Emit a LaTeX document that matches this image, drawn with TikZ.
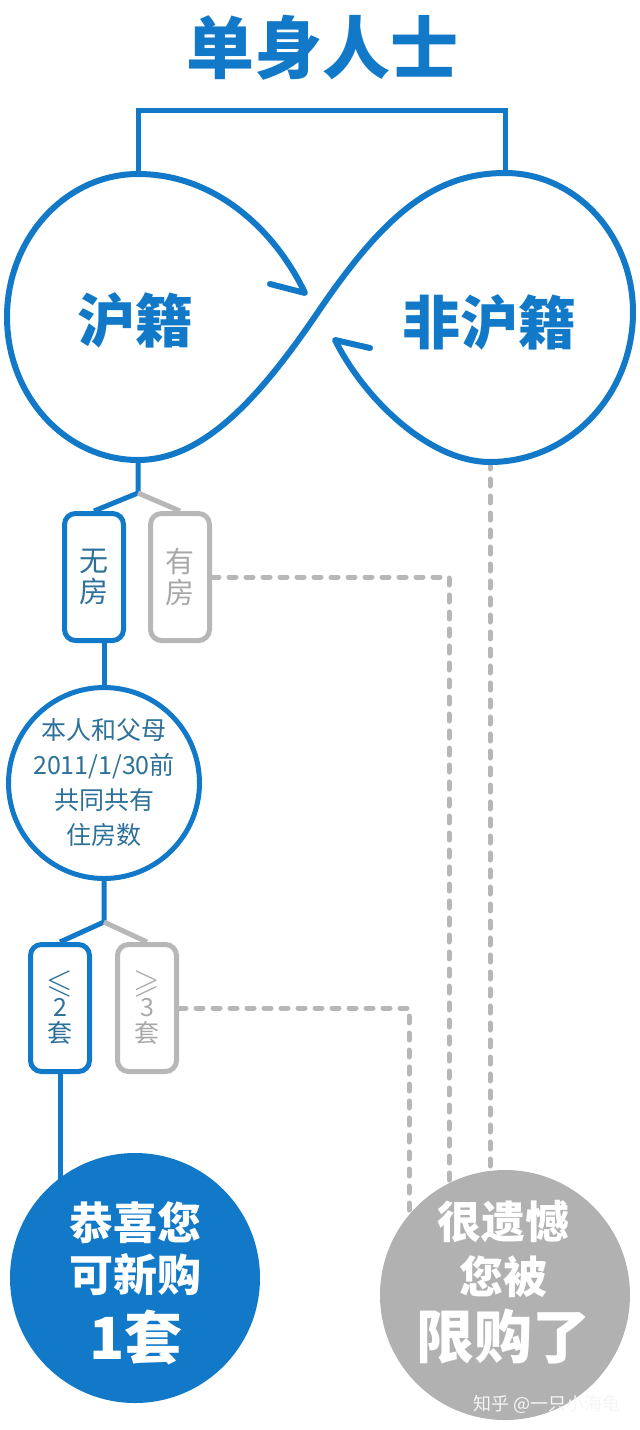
\documentclass[tikz,border=0pt]{standalone}
\usepackage{amssymb}
\usepackage{fontspec}
\newfontfamily\cjk{Noto Sans CJK SC}
\usetikzlibrary{backgrounds}
\definecolor{mblue}{RGB}{17,121,200}
\definecolor{tblue}{RGB}{45,112,152}
\definecolor{lgray}{RGB}{183,183,183}
\definecolor{tgray}{RGB}{168,168,168}
\definecolor{fgray}{RGB}{177,177,177}
\newcommand{\bigrel}[1]{\raisebox{-2pt}{\fontsize{34}{26}\selectfont$#1$}}
\begin{document}
\begin{tikzpicture}[x=1pt,y=-1pt,
  blueline/.style={draw=mblue,line width=5pt},
  grayline/.style={draw=lgray,line width=5pt},
  dashline/.style={draw=lgray,line width=5pt,line cap=round,dash pattern=on 7pt off 10pt},
  optbox/.style={rectangle,rounded corners=11pt,line width=5pt,minimum width=59pt,minimum height=127pt,inner sep=0pt,align=center},
  onbox/.style={optbox,draw=mblue,text=tblue},
  offbox/.style={optbox,draw=lgray,text=tgray},
  looplabel/.style={font=\cjk\bfseries\fontsize{58}{58}\selectfont,text=mblue,inner sep=0pt},
  endcircle/.style={circle,minimum size=250pt,inner sep=0pt},
  endsmall/.style={text=white,inner sep=0pt,font=\cjk\bfseries\fontsize{44}{44}\selectfont},
  endbig/.style={text=white,inner sep=0pt,font=\cjk\bfseries\fontsize{58}{58}\selectfont}
]
\useasboundingbox (0,0) rectangle (640,1430);

% title
\node[font=\cjk\bfseries\fontsize{68}{68}\selectfont,text=mblue,inner sep=0pt] (title) at (322,48) {单身人士};

% key points of the infinity loop
\coordinate (ltop) at (138,174);
\coordinate (lbot) at (138,460);
\coordinate (rtop) at (505,173);
\coordinate (rbot) at (490,462);
\coordinate (bk) at (138,110);

\node[looplabel] (hu) at (135,320) {沪籍};
\node[looplabel] (fei) at (489,322) {非沪籍};

% infinity loop with its two half arrowheads
\draw[mblue,line width=6pt,line cap=round,line join=round]
  (270,284) -- (305,293) .. controls (275,230) and (215,174) .. (ltop)
  .. controls (66,174) and (7,238) .. (7,317)
  .. controls (7,396) and (66,460) .. (lbot)
  .. controls (200,460) and (255,405) .. (318,312)
  .. controls (382,218) and (432,173) .. (rtop)
  .. controls (576,173) and (633,236) .. (633,312)
  .. controls (633,396) and (568,462) .. (rbot)
  .. controls (430,462) and (365,400) .. (335,340) -- (370,348);

% first level
\coordinate (b1) at (138,493);
\node[onbox,font=\cjk\fontsize{29}{31}\selectfont] (wufang) at (94,577) {无\\房};
\node[offbox,font=\cjk\fontsize{29}{31}\selectfont] (youfang) at (180,577) {有\\房};

\node[circle,draw=mblue,line width=5pt,minimum size=186pt,inner sep=0pt,align=center,text=tblue,font=\cjk\fontsize{25}{35}\selectfont] (count) at (104,783) {本人和父母\\2011/1/30前\\共同共有\\住房数};

% second level
\coordinate (b2) at (104,922);
\node[onbox,font=\cjk\fontsize{25}{26}\selectfont] (le) at (60,1008) {\bigrel{\leqslant}\\2\\套};
\node[offbox,font=\cjk\fontsize{25}{26}\selectfont] (ge) at (147,1008) {\bigrel{\geqslant}\\3\\套};

% results
\node[endcircle,fill=mblue] (win) at (135,1278) {};
\node[endcircle,fill=fgray] (lose) at (505,1295) {};
\node[endsmall] (w1) at (135,1223) {恭喜您};
\node[endsmall] (w2) at (135,1275) {可新购};
\node[endbig] (w3) at (136,1337) {1套};
\node[endsmall] (l1) at (503,1222) {很遗憾};
\node[endsmall] (l2) at (503,1277) {您被};
\node[endbig] (l3) at (503,1337) {限购了};
\node[font=\cjk\fontsize{18}{18}\selectfont,text=white!92!gray,inner sep=0pt] (wm) at (547,1404) {知乎 @一只小海龟};

\coordinate (d1) at (449,1250);
\coordinate (d2) at (409,1250);
\coordinate (d3) at (490,1250);

\begin{scope}[on background layer]
  \draw[blueline] (ltop) -- (bk) -| (rtop);
  \draw[blueline] (lbot) -- (b1) -- (wufang.north);
  \draw[grayline] (b1) -- (youfang.north);
  \draw[blueline] (wufang.south -| count.north) -- (count.north);
  \draw[blueline] (count.south) -- (b2) -- (le.north);
  \draw[grayline] (b2) -- (ge.north);
  \draw[blueline] (le.south) -- (le.south |- win.center);
  \draw[dashline] (youfang.east) -| (d1);
  \draw[dashline] (ge.east) -| (d2);
  \draw[dashline] (rbot) -- (d3);
\end{scope}
\end{tikzpicture}
\end{document}
